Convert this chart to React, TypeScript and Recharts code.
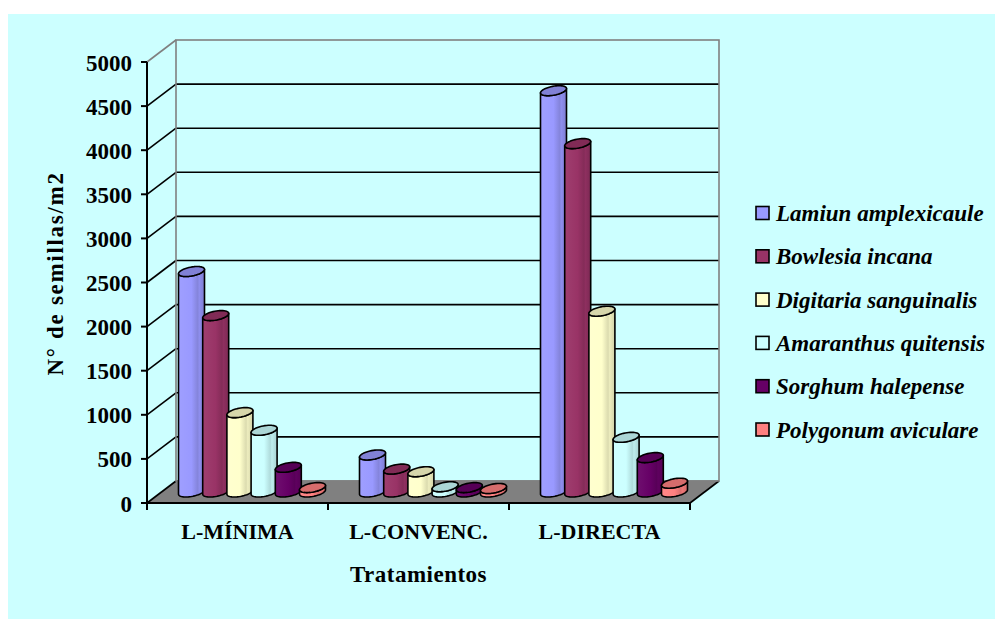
import React from 'react';
import { BarChart, Bar, XAxis, YAxis, CartesianGrid, Legend } from 'recharts';

// Tillage treatments (x categories)
const categories = ['L-MÍNIMA', 'L-CONVENC.', 'L-DIRECTA'];

// Seed bank per species, seeds per m2, in category order
const lamium = [2500, 420, 4550];
const bowlesia = [2000, 260, 3950];
const digitaria = [900, 230, 2050];
const amaranthus = [700, 60, 620];
const sorghum = [280, 50, 390];
const polygonum = [50, 40, 100];

const yTicks = [0, 500, 1000, 1500, 2000, 2500, 3000, 3500, 4000, 4500, 5000];

const seriesList = [
  { key: 'lamium', name: 'Lamiun amplexicaule', values: lamium, color: '#9999FF' },
  { key: 'bowlesia', name: 'Bowlesia incana', values: bowlesia, color: '#993366' },
  { key: 'digitaria', name: 'Digitaria sanguinalis', values: digitaria, color: '#FFFFCC' },
  { key: 'amaranthus', name: 'Amaranthus quitensis', values: amaranthus, color: '#CCFFFF' },
  { key: 'sorghum', name: 'Sorghum halepense', values: sorghum, color: '#660066' },
  { key: 'polygonum', name: 'Polygonum aviculare', values: polygonum, color: '#FF8080' },
];

const data = categories.map((name, i) => {
  const row: Record<string, string | number> = { name };
  seriesList.forEach((s) => {
    row[s.key] = s.values[i];
  });
  return row;
});

// Oblique depth offset between the bar plane and the front / back planes
const DX = 14.5;
const DY = 11;

const FONT = "'Liberation Serif', 'Times New Roman', serif";
const WALL = '#808080';

function shade(hex: string, f: number): string {
  const n = parseInt(hex.slice(1), 16);
  const ch = [(n >> 16) & 255, (n >> 8) & 255, n & 255].map((v) => {
    const out = f <= 1 ? v * f : v + (255 - v) * (f - 1);
    return Math.max(0, Math.min(255, Math.round(out)));
  });
  return '#' + ch.map((v) => v.toString(16).padStart(2, '0')).join('');
}

// Cylinder bar: vertical body plus a tilted elliptical cap
function makeCylinder(seriesIdx: number) {
  return (props: any) => {
    const { x, y, width, height, fill, index } = props;
    if (x == null || y == null || !width) return <g />;
    const W = width / 2;
    const cx = x + W;
    const a = W * 0.9;
    const b = W * 0.436;
    const c = 5;
    const th0 = Math.atan2(b, a);
    const yt = y;
    const yb = y + Math.max(0, height);
    const pt = (cy: number, th: number) =>
      `${(cx + a * Math.cos(th) + b * Math.sin(th)).toFixed(2)},${(cy - c * Math.sin(th)).toFixed(2)}`;
    const arc = (cy: number, from: number, to: number, n = 28) => {
      const pts: string[] = [];
      for (let k = 0; k <= n; k++) pts.push(pt(cy, from + ((to - from) * k) / n));
      return pts;
    };
    const bottomFront = arc(yb, th0 + Math.PI, th0 + 2 * Math.PI);
    const topFrontBack = arc(yt, th0 + 2 * Math.PI, th0 + Math.PI);
    const side =
      `M${pt(yt, th0 + Math.PI)} L${bottomFront.join(' L')} L${topFrontBack.join(' L')} Z`;
    const cap = `M${arc(yt, 0, 2 * Math.PI, 48).join(' L')} Z`;
    const gid = `cyl-${seriesIdx}-${index}`;
    return (
      <g>
        <defs>
          <linearGradient id={gid} x1="0" y1="0" x2="1" y2="0">
            <stop offset="0" stopColor={shade(fill, 1.06)} />
            <stop offset="0.5" stopColor={fill} />
            <stop offset="0.74" stopColor={shade(fill, 0.86)} />
            <stop offset="0.8" stopColor={shade(fill, 0.93)} />
            <stop offset="1" stopColor={shade(fill, 0.82)} />
          </linearGradient>
        </defs>
        <path d={side} fill={`url(#${gid})`} stroke="#000" strokeWidth={1.6} strokeLinejoin="round" />
        <path d={cap} fill={shade(fill, 0.84)} stroke="#000" strokeWidth={1.6} strokeLinejoin="round" />
      </g>
    );
  };
}

// Grid lines become the 3D box: back wall, left wall, floor and front axes
const renderGridLine = (p: any) => {
  const xl = p.x1;
  const xr = p.x2;
  const yv = p.y1;
  const top = p.y;
  const bottom = p.y + p.height;
  const key = p.key ?? `g-${p.index}`;
  if (Math.abs(yv - top) < 0.5) {
    return (
      <g key={key}>
        <rect x={xl + DX} y={top - DY} width={xr - xl} height={bottom - top} fill="none" stroke={WALL} strokeWidth={1.6} />
        <line x1={xl - DX} y1={top + DY} x2={xl + DX} y2={top - DY} stroke={WALL} strokeWidth={1.6} />
        <line x1={xl - DX} y1={top + DY} x2={xl - DX} y2={bottom + DY} stroke="#000" strokeWidth={2} />
      </g>
    );
  }
  if (Math.abs(yv - bottom) < 0.5) {
    const n = categories.length;
    const ticks = Array.from({ length: n + 1 }, (_, k) => xl - DX + ((xr - xl) * k) / n);
    return (
      <g key={key}>
        <polygon
          points={`${xl - DX},${bottom + DY} ${xr - DX},${bottom + DY} ${xr + DX},${bottom - DY} ${xl + DX},${bottom - DY}`}
          fill={WALL}
        />
        <line x1={xl + DX} y1={bottom - DY} x2={xr + DX} y2={bottom - DY} stroke={WALL} strokeWidth={1.6} />
        <line x1={xl - DX} y1={bottom + DY} x2={xl + DX} y2={bottom - DY} stroke="#000" strokeWidth={1.6} />
        <line x1={xr - DX} y1={bottom + DY} x2={xr + DX} y2={bottom - DY} stroke="#000" strokeWidth={1.6} />
        <line x1={xl - DX} y1={bottom + DY} x2={xr - DX} y2={bottom + DY} stroke="#000" strokeWidth={2} />
        {ticks.map((tx, k) => (
          <line key={k} x1={tx} y1={bottom + DY} x2={tx} y2={bottom + DY + 7} stroke="#000" strokeWidth={2} />
        ))}
      </g>
    );
  }
  return (
    <g key={key}>
      <line x1={xl + DX} y1={yv - DY} x2={xr + DX} y2={yv - DY} stroke="#000" strokeWidth={1.6} />
      <line x1={xl - DX} y1={yv + DY} x2={xl + DX} y2={yv - DY} stroke="#000" strokeWidth={1.6} />
    </g>
  );
};

const YTick = (p: any) => {
  const fx = p.x - DX;
  const fy = p.y + DY;
  return (
    <g>
      <line x1={fx - 6} y1={fy} x2={fx} y2={fy} stroke="#000" strokeWidth={2} />
      <text x={fx - 15} y={fy + 8.5} textAnchor="end" fontFamily={FONT} fontWeight="bold" fontSize={23} fill="#000">
        {p.payload.value}
      </text>
    </g>
  );
};

const XTick = (p: any) => (
  <text x={p.x - DX} y={p.y + 47.3} textAnchor="middle" fontFamily={FONT} fontWeight="bold" fontSize={22} fill="#000">
    {p.payload.value}
  </text>
);

const renderXLabel = (p: any) => {
  const vb = p.viewBox || {};
  return (
    <text
      x={vb.x + vb.width / 2 - DX}
      y={vb.y + 90}
      textAnchor="middle"
      fontFamily={FONT}
      fontWeight="bold"
      fontSize={23}
      letterSpacing={0.5}
      fill="#000"
    >
      Tratamientos
    </text>
  );
};

const renderYLabel = (p: any) => {
  const vb = p.viewBox || {};
  const tx = vb.x + vb.width - 98.5;
  const ty = vb.y + vb.height / 2 + 2;
  return (
    <text
      x={tx}
      y={ty}
      transform={`rotate(-90, ${tx}, ${ty})`}
      textAnchor="middle"
      fontFamily={FONT}
      fontWeight="bold"
      fontSize={23}
      letterSpacing={1.7}
      fill="#000"
    >
      N° de semillas/m2
    </text>
  );
};

// Legend entries listed in series order
const renderLegend = (props: any) => {
  const payload: any[] = props.payload || [];
  const items = seriesList
    .map((s) => payload.find((it) => it.value === s.name || it.dataKey === s.key))
    .filter(Boolean);
  return (
    <div style={{ position: 'relative', width: 0, height: 0 }}>
      <svg width={245} height={270} style={{ position: 'absolute', left: 745, top: 170, overflow: 'visible' }}>
        {items.map((it: any, i: number) => {
          const cy = 30 + i * 43.3;
          return (
            <g key={it.value}>
              <rect x={3} y={cy - 7.5} width={13} height={13} fill={it.color} stroke="#000" strokeWidth={1.6} />
              <text
                x={23}
                y={cy + 7}
                fontFamily={FONT}
                fontWeight="bold"
                fontStyle="italic"
                fontSize={23}
                fill="#000"
              >
                {it.value}
              </text>
            </g>
          );
        })}
      </svg>
    </div>
  );
};

export default function App() {
  return (
    <div style={{ position: 'relative', width: 995, height: 619, background: '#fff', overflow: 'hidden' }}>
      <style>{'html,body{margin:0;padding:0;overflow:hidden;background:#fff}'}</style>
      <div style={{ position: 'absolute', left: 8, top: 14, width: 987, height: 605, background: '#CCFFFF' }}>
        <BarChart
          width={987}
          height={605}
          data={data}
          margin={{ top: 37, right: 290.5, bottom: 27, left: 3.5 }}
          barSize={26}
          barGap={-1.8}
        >
          <CartesianGrid vertical={false} horizontal={renderGridLine} />
          <XAxis
            dataKey="name"
            axisLine={false}
            tickLine={false}
            tickSize={0}
            tickMargin={0}
            height={100}
            interval={0}
            tick={<XTick />}
            label={{ value: 'Tratamientos', content: renderXLabel }}
          />
          <YAxis
            domain={[0, 5000]}
            ticks={yTicks}
            axisLine={false}
            tickLine={false}
            tickSize={0}
            tickMargin={0}
            width={150}
            interval={0}
            tick={<YTick />}
            label={{ value: 'N° de semillas/m2', content: renderYLabel }}
          />
          <Legend
            layout="horizontal"
            verticalAlign="bottom"
            align="left"
            wrapperStyle={{ left: 0, top: 0, bottom: 'auto', right: 'auto', width: 0, height: 0 }}
            content={renderLegend}
          />
          {seriesList.map((s, i) => (
            <Bar
              key={s.key}
              dataKey={s.key}
              name={s.name}
              fill={s.color}
              isAnimationActive={false}
              shape={makeCylinder(i)}
            />
          ))}
        </BarChart>
      </div>
    </div>
  );
}
